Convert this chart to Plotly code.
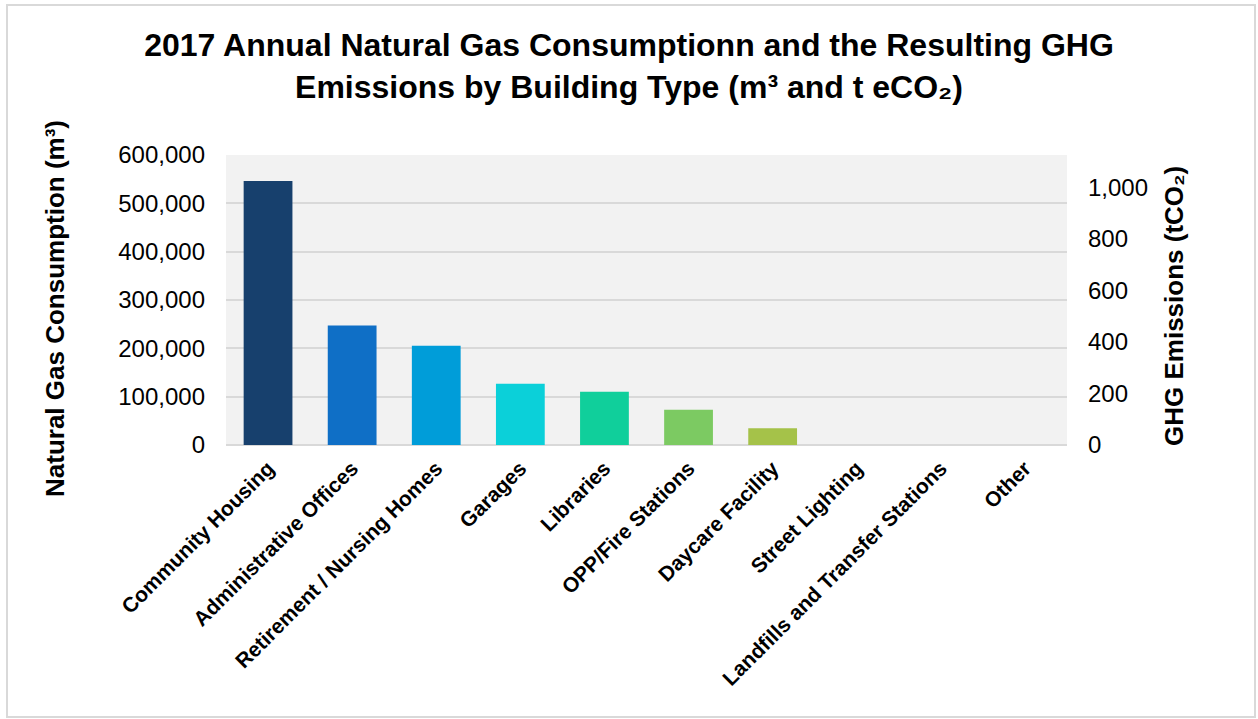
import plotly.graph_objects as go

categories = ["Community Housing", "Administrative Offices", "Retirement / Nursing Homes",
              "Garages", "Libraries", "OPP/Fire Stations", "Daycare Facility",
              "Street Lighting", "Landfills and Transfer Stations", "Other"]
gas_m3 = [546000, 247000, 205500, 126600, 110000, 72700, 34700, 0, 0, 0]
ghg_t = [1025, 464, 386, 238, 207, 136, 65, 0, 0, 0]
bar_colors = ["#17406D", "#0F6FC6", "#009DD9", "#0BD0D9", "#10CF9B", "#7CCA62", "#A5C249",
              "#17406D", "#0F6FC6", "#009DD9"]
left_ticks = [0, 100000, 200000, 300000, 400000, 500000, 600000]
right_ticks = [0, 200, 400, 600, 800, 1000]
left_max = 600000
right_max = 1126.2

FONT = "Liberation Sans, Arial, sans-serif"

fig = go.Figure()
fig.add_trace(go.Bar(x=categories, y=gas_m3, marker=dict(color=bar_colors, line=dict(width=0)),
                     width=0.58, showlegend=False, hoverinfo="x+y"))
fig.add_trace(go.Scatter(x=categories, y=ghg_t, yaxis="y2", mode="markers",
                         marker=dict(size=1, opacity=0), showlegend=False, hoverinfo="skip"))

W, H = 1258, 719
L, R, T, B = 226, 191, 155, 274
pw, ph = W - L - R, H - T - B

def px_x(x):
    return (x - L) / pw

def px_y(y):
    return (H - B - y) / ph

fig.update_layout(
    width=W, height=H,
    margin=dict(l=L, r=R, t=T, b=B, autoexpand=False),
    paper_bgcolor="white",
    plot_bgcolor="#F2F2F2",
    font=dict(family=FONT, color="#000000"),
    title=dict(text="<b>2017 Annual Natural Gas Consumptionn and the Resulting GHG<br>Emissions by Building Type (m³ and t eCO₂)</b>",
               x=0.5, xref="container", xanchor="center",
               y=1 - 56 / H, yref="container", yanchor="middle",
               font=dict(size=32, family=FONT, color="#000000")),
    xaxis=dict(tickangle=-45, tickfont=dict(size=21, family=FONT, color="#000000", weight="bold"),
               showgrid=False, showline=False, ticks="", automargin=False,
               ticklabelstandoff=6, range=[-0.5, 9.5]),
    yaxis=dict(range=[0, left_max], tickvals=left_ticks, tickformat=",",
               tickfont=dict(size=24, family=FONT, color="#000000"),
               showgrid=True, gridcolor="#D9D9D9", gridwidth=2,
               zeroline=True, zerolinecolor="#D9D9D9", zerolinewidth=2,
               showline=False, ticks="", ticklabelstandoff=20, automargin=False),
    yaxis2=dict(range=[0, right_max], tickvals=right_ticks, tickformat=",",
                overlaying="y", side="right", showgrid=False, zeroline=False,
                tickfont=dict(size=24, family=FONT, color="#000000"),
                showline=False, ticks="", ticklabelstandoff=20, automargin=False),
    bargap=0.42,
    annotations=[
        dict(text="<b>Natural Gas Consumption (m³)</b>", textangle=-90,
             x=px_x(55), y=px_y(309), xref="paper", yref="paper",
             xanchor="center", yanchor="middle", showarrow=False,
             font=dict(size=26, family=FONT, color="#000000")),
        dict(text="<b>GHG Emissions (tCO₂)</b>", textangle=-90,
             x=px_x(1174), y=px_y(306), xref="paper", yref="paper",
             xanchor="center", yanchor="middle", showarrow=False,
             font=dict(size=26, family=FONT, color="#000000")),
    ],
    shapes=[
        dict(type="rect", xref="paper", yref="paper",
             x0=px_x(7), x1=px_x(1255), y0=px_y(717), y1=px_y(5),
             line=dict(color="#D9D9D9", width=2), fillcolor="rgba(0,0,0,0)", layer="below"),
    ],
)

fig.write_html("out.html")
